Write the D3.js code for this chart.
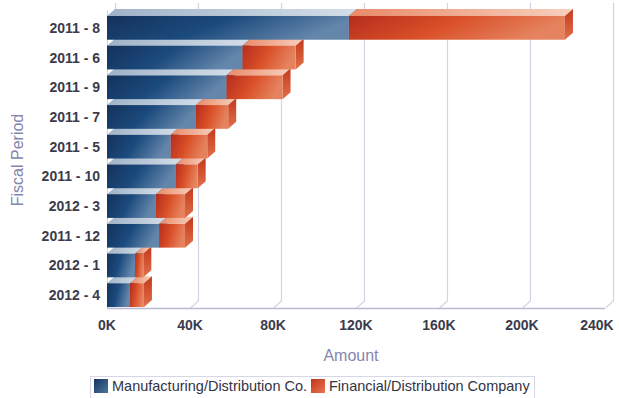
<!DOCTYPE html>
<html>
<head>
<meta charset="utf-8">
<script src="https://cdn.jsdelivr.net/npm/d3@7/dist/d3.min.js"></script>
<style>
  html, body { margin: 0; padding: 0; background: #ffffff; }
  svg { display: block; font-family: "Liberation Sans", Arial, sans-serif; }
</style>
</head>
<body>
<svg id="chart" width="619" height="398"></svg>
<script>
// ---- data ----
const categories = ["2011 - 8", "2011 - 6", "2011 - 9", "2011 - 7", "2011 - 5",
                    "2011 - 10", "2012 - 3", "2011 - 12", "2012 - 1", "2012 - 4"];
const seriesNames = ["Manufacturing/Distribution Co.", "Financial/Distribution Company"];
const manufacturing = [116600, 65300, 57600, 42900, 30700, 33100, 23600, 25200, 13600, 11100];
const financial     = [104100, 25600, 27000, 15500, 17600, 10600, 14000, 12400, 3900, 6700];
const xTicks = [0, 40000, 80000, 120000, 160000, 200000, 240000];
const xTickLabels = ["0K", "40K", "80K", "120K", "160K", "200K", "240K"];
const xTitle = "Amount";
const yTitle = "Fiscal Period";

// ---- layout ----
const W = 619, H = 398;
const DX = 8, DY = 7;           // 3D depth offset
const baseY = 308;              // floor (front) line
const svg = d3.select("#chart");
const defs = svg.append("defs");

function grad(id, stops, x2 = 1, y2 = 0.25) {
  const g = defs.append("linearGradient").attr("id", id)
    .attr("x1", 0).attr("y1", 0).attr("x2", x2).attr("y2", y2);
  stops.forEach(([o, c]) => g.append("stop").attr("offset", o).attr("stop-color", c));
}
grad("blueFront", [[0, "#14325b"], [0.5, "#1b4a7d"], [1, "#6486ab"]]);
grad("blueTop",   [[0, "#9fb3c8"], [1, "#d4dee8"]], 1, 0);
grad("blueSide",  [[0, "#1b3f6b"], [1, "#3c6390"]], 1, 0);
grad("redFront",  [[0, "#b42d1e"], [0.5, "#d94f27"], [1, "#e5835f"]]);
grad("redTop",    [[0, "#e98a68"], [1, "#f7d0be"]], 1, 0);
grad("redSide",   [[0, "#c23a1b"], [1, "#e26f4a"]], 0, 1);
grad("blueSwatch",[[0, "#15345e"], [1, "#4f76a0"]], 1, 1);
grad("redSwatch", [[0, "#c0341c"], [1, "#e8764f"]], 1, 1);

const x = d3.scaleLinear().domain([0, 240000]).range([107, 605]);
const y = d3.scaleBand().domain(categories).range([13, 310]).paddingInner(0.2).paddingOuter(0.1);

// ---- gridlines (back wall) ----
const grid = svg.append("g").attr("stroke", "#d3d3e3").attr("stroke-width", 1.2).attr("fill", "none");
xTicks.forEach(t => {
  const gx = Math.round(x(t)) + 0.5;
  if (t > 0) {
    grid.append("line").attr("x1", gx + DX).attr("x2", gx + DX).attr("y1", 3).attr("y2", baseY - DY);
    grid.append("line").attr("x1", gx).attr("x2", gx + DX).attr("y1", baseY).attr("y2", baseY - DY);
  } else {
    grid.append("line").attr("x1", gx + DX).attr("x2", gx + DX).attr("y1", 3).attr("y2", 12);
  }
});

// left axis line
svg.append("line").attr("x1", x(0) + 0.5).attr("x2", x(0) + 0.5).attr("y1", 10).attr("y2", baseY)
  .attr("stroke", "#d0d0e0").attr("stroke-width", 1);

// ---- bars ----
const series = [
  { name: seriesNames[0], values: manufacturing, front: "blueFront", top: "blueTop", side: "blueSide" },
  { name: seriesNames[1], values: financial, front: "redFront", top: "redTop", side: "redSide" }
];
const stacked = categories.map((c, i) => {
  let acc = 0;
  return series.map(s => { const v0 = acc; acc += s.values[i]; return { cat: c, s, v0, v1: acc }; });
});

const barsG = svg.append("g");
for (let i = categories.length - 1; i >= 0; i--) {
  const row = barsG.append("g");
  stacked[i].forEach(d => {
    const x0 = x(d.v0), x1 = x(d.v1), yt = y(d.cat), h = y.bandwidth();
    row.append("path")
      .attr("d", `M${x0},${yt}L${x0 + DX},${yt - DY}L${x1 + DX},${yt - DY}L${x1},${yt}Z`)
      .attr("fill", `url(#${d.s.top})`);
    row.append("path")
      .attr("d", `M${x1},${yt}L${x1 + DX},${yt - DY}L${x1 + DX},${yt + h - DY}L${x1},${yt + h}Z`)
      .attr("fill", `url(#${d.s.side})`);
    row.append("rect").attr("x", x0).attr("y", yt).attr("width", x1 - x0).attr("height", h)
      .attr("fill", `url(#${d.s.front})`);
  });
}

// floor line (front x axis)
svg.append("line").attr("x1", x(0)).attr("x2", x(240000)).attr("y1", baseY + 0.5).attr("y2", baseY + 0.5)
  .attr("stroke", "#b9b9d2").attr("stroke-width", 1.5);

// ---- axis labels ----
const labelStyle = s => s.attr("fill", "#3b3b4b").attr("font-size", "14px").attr("font-weight", "bold");
svg.append("g").selectAll("text").data(categories).join("text")
  .attr("x", 100).attr("y", d => y(d) + y.bandwidth() / 2).attr("dy", "0.36em")
  .attr("text-anchor", "end").text(d => d).call(labelStyle);

svg.append("g").selectAll("text").data(xTicks).join("text")
  .attr("x", (d, i) => Math.min(x(d), W - 22)).attr("y", 330)
  .attr("text-anchor", "middle").text((d, i) => xTickLabels[i]).call(labelStyle);

svg.append("text").attr("x", 351).attr("y", 361).attr("text-anchor", "middle")
  .attr("fill", "#8585b0").attr("font-size", "16px").text(xTitle);
svg.append("text").attr("transform", "translate(23,160) rotate(-90)").attr("text-anchor", "middle")
  .attr("fill", "#8585b0").attr("font-size", "16px").text(yTitle);

// ---- legend ----
const lg = svg.append("g");
lg.append("rect").attr("x", 90.5).attr("y", 376.5).attr("width", 444).attr("height", 30)
  .attr("fill", "none").attr("stroke", "#d6d6e4");
const items = [
  { name: seriesNames[0], fill: "url(#blueSwatch)", sx: 94, tx: 112 },
  { name: seriesNames[1], fill: "url(#redSwatch)", sx: 311, tx: 329 }
];
items.forEach(it => {
  lg.append("rect").attr("x", it.sx).attr("y", 379).attr("width", 14).attr("height", 14).attr("fill", it.fill);
  lg.append("text").attr("x", it.tx).attr("y", 386).attr("dy", "0.36em")
    .attr("fill", "#333344").attr("font-size", "14.5px").text(it.name);
});
</script>
</body>
</html>
